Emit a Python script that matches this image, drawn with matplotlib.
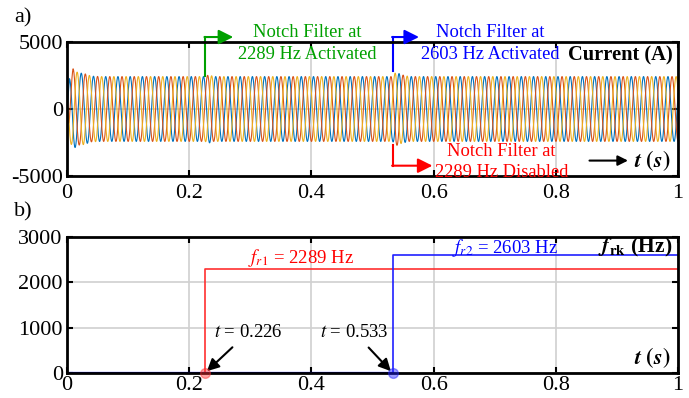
import numpy as np
import matplotlib
matplotlib.use("Agg")
import matplotlib.pyplot as plt

plt.rcParams['font.family'] = ['Liberation Serif', 'DejaVu Serif']
plt.rcParams['mathtext.fontset'] = 'stix'
plt.rcParams['axes.unicode_minus'] = False

# three-phase current, read from panel a)
F_GRID = 50.0
env_t = [0.0, 0.004, 0.010, 0.018, 0.028, 0.040, 0.055, 0.226, 0.232, 0.240, 0.533, 0.538, 0.548, 0.560, 1.0]
env_a = [0.0, 2300, 3000, 2700, 2650, 2450, 2420, 2420, 2550, 2420, 2420, 2750, 2550, 2420, 2420]

# resonance frequencies, panel b)
t_on = [0.226, 0.533]
f_res = [2289, 2603]
t_end = 1.0

col_a = '#0072BD'
col_b = '#D95319'
col_c = '#EDB120'

fig = plt.figure(figsize=(6.89, 3.98), dpi=100)
ax1 = fig.add_axes([0.0972, 0.5578, 0.887, 0.3367])
ax2 = fig.add_axes([0.0972, 0.0628, 0.887, 0.3417])

t = np.linspace(0, 1, 20000)
amp = np.interp(t, env_t, env_a)
for k, c in enumerate([col_a, col_b, col_c]):
    ax1.plot(t, amp * np.sin(2 * np.pi * F_GRID * t - 2 * np.pi * k / 3 + 0.5), color=c, lw=0.8)

for ax in (ax1, ax2):
    ax.set_xlim(0, 1)
    ax.set_xticks([0, 0.2, 0.4, 0.6, 0.8, 1])
    ax.set_xticklabels(['0', '0.2', '0.4', '0.6', '0.8', '1'])
    ax.tick_params(direction='in', top=True, right=True, labelsize=16, width=1.5, length=4)
    ax.tick_params(axis='y', pad=3)
    for s in ax.spines.values():
        s.set_linewidth(2)
    ax.grid(True, color='#d0d0d0', lw=1.2)
    ax.set_axisbelow(True)
ax1.tick_params(axis='x', pad=6)
ax2.tick_params(axis='x', pad=2)

ax1.set_ylim(-5000, 5000)
ax1.set_yticks([-5000, 0, 5000])
ax1.grid(False, axis='y')
ax1.axhline(0, color='#d0d0d0', lw=1.2, zorder=0)

ax2.set_ylim(0, 3000)
ax2.set_yticks([0, 1000, 2000, 3000])

arrow_kw = dict(lw=1.5, mutation_scale=22, shrinkA=0, shrinkB=0)

# annotations panel a
ytop = 5370
ax1.plot([t_on[0], t_on[0]], [2450, ytop], color='#00a000', lw=1.5, clip_on=False)
ax1.annotate('', xy=(0.272, ytop), xytext=(t_on[0] - 0.001, ytop),
             arrowprops=dict(arrowstyle='-|>', color='#00a000', **arrow_kw), annotation_clip=False)
ax1.text(0.393, 4880, 'Notch Filter at\n2289 Hz Activated', color='#00a000', fontsize=13.3,
         ha='center', va='center', linespacing=1.35)

ax1.plot([t_on[1], t_on[1]], [2800, ytop], color='#0000ff', lw=1.5, clip_on=False)
ax1.annotate('', xy=(0.576, ytop), xytext=(t_on[1] - 0.001, ytop),
             arrowprops=dict(arrowstyle='-|>', color='#0000ff', **arrow_kw), annotation_clip=False)
ax1.text(0.692, 4880, 'Notch Filter at\n2603 Hz Activated', color='#0000ff', fontsize=13.3,
         ha='center', va='center', linespacing=1.35)

ybot = -4230
ax1.plot([t_on[1], t_on[1]], [-2700, ybot], color='#ff0000', lw=1.5)
ax1.annotate('', xy=(0.598, ybot), xytext=(t_on[1] - 0.001, ybot),
             arrowprops=dict(arrowstyle='-|>', color='#ff0000', **arrow_kw))
ax1.text(0.711, -3950, 'Notch Filter at\n2289 Hz Disabled', color='#ff0000', fontsize=13.3,
         ha='center', va='center', linespacing=1.35)

ax1.text(0.992, 4000, 'Current (A)', fontsize=14.8, fontweight='bold', ha='right', va='center')
ax1.annotate('', xy=(0.918, -3850), xytext=(0.855, -3850),
             arrowprops=dict(arrowstyle='-|>', color='k', lw=1.5, mutation_scale=15, shrinkA=0, shrinkB=0))
ax1.text(0.988, -3850, r'$\boldsymbol{t}$ $\mathbf{(}\boldsymbol{s}\mathbf{)}$', fontsize=16, ha='right', va='center')

# panel b
for tt, ff, c in [(t_on[0], f_res[0], '#ff3030'), (t_on[1], f_res[1], '#2020ff')]:
    ax2.plot([0, tt, tt, t_end], [0, 0, ff, ff], color=c, lw=1.2)
    ax2.plot(tt, 0, 'o', color=c, alpha=0.45, ms=7, clip_on=False, zorder=5)
ax2.plot([0, t_on[1]], [0, 0], color='#0000ff', lw=1.6)

ax2.text(0.383, 2540, r'$f_{r1}$ = 2289 Hz', color='#ff0000', fontsize=13.5, ha='center', va='center')
ax2.text(0.717, 2760, r'$f_{r2}$ = 2603 Hz', color='#0000ff', fontsize=13.5, ha='center', va='center')
ax2.text(0.99, 2760, r'$\boldsymbol{f}_{\mathbf{rk}}$ (Hz)', fontsize=15.5, fontweight='bold', ha='right', va='center')
ax2.text(0.988, 330, r'$\boldsymbol{t}$ $\mathbf{(}\boldsymbol{s}\mathbf{)}$', fontsize=16, ha='right', va='center')

ax2.annotate(r'$t$ = 0.226', xy=(t_on[0] + 0.003, 40), xytext=(0.297, 900), fontsize=13.5, ha='center', va='center',
             arrowprops=dict(arrowstyle='-|>', color='k', lw=1.5, mutation_scale=18, shrinkA=4, shrinkB=0))
ax2.annotate(r'$t$ = 0.533', xy=(t_on[1] - 0.003, 40), xytext=(0.470, 900), fontsize=13.5, ha='center', va='center',
             arrowprops=dict(arrowstyle='-|>', color='k', lw=1.5, mutation_scale=18, shrinkA=4, shrinkB=0))

fig.text(0.02, 0.955, 'a)', fontsize=16, va='center')
fig.text(0.02, 0.467, 'b)', fontsize=16, va='center')

fig.savefig('out.png', dpi=100)
